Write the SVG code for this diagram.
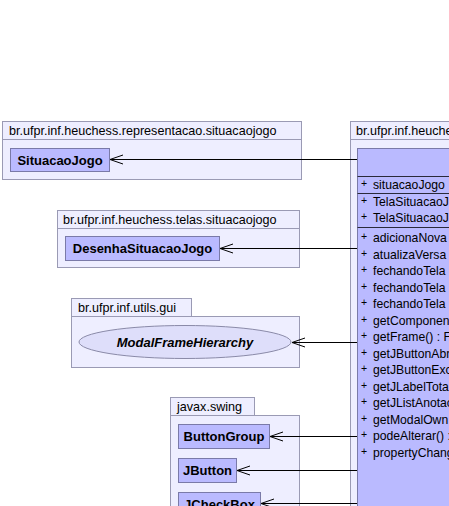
<svg xmlns="http://www.w3.org/2000/svg" width="449" height="506" viewBox="0 0 449 506">
<style>
.pkg{fill:#eeeeff;stroke:#9a9ab4;stroke-width:1}
.cls{fill:#babaff;stroke:#7a7aa8;stroke-width:1}
.iface{fill:#dedefa;stroke:#8a8aa8;stroke-width:1}
.sep{stroke:#2a2a3a;stroke-width:1}
.plabel{font-family:"Liberation Sans",Arial,sans-serif;font-size:12.6px;fill:#000}
.cname{font-family:"Liberation Sans",Arial,sans-serif;font-size:13px;font-weight:bold;fill:#000;text-anchor:middle}
.iname{font-family:"Liberation Sans",Arial,sans-serif;font-size:13px;font-weight:bold;font-style:italic;fill:#000;text-anchor:middle}
.mem{font-family:"Liberation Sans",Arial,sans-serif;font-size:12.2px;fill:#000}
.plus{font-size:10.5px}
.dep{stroke:#000;stroke-width:1;fill:none;marker-end:url(#open)}
</style>
<defs>
<marker id="open" markerUnits="userSpaceOnUse" viewBox="-15 -7 17 14" markerWidth="17" markerHeight="14" refX="0" refY="0" orient="auto" overflow="visible">
<path d="M-13,-4.5 L0,0 L-13,4.5" fill="none" stroke="#000" stroke-width="1"/>
</marker>
</defs>
<rect width="449" height="506" fill="#ffffff"/>

<g id="pkg-representacao">
<rect class="pkg" x="2.5" y="121.5" width="299" height="18"/>
<rect class="pkg" x="2.5" y="139.5" width="299" height="40"/>
<text class="plabel" x="9" y="135">br.ufpr.inf.heuchess.representacao.situacaojogo</text>
</g>
<g id="SituacaoJogo">
<rect class="cls" x="10.5" y="148.5" width="99" height="23"/>
<text class="cname" x="60" y="164.5">SituacaoJogo</text>
</g>

<g id="pkg-telas">
<rect class="pkg" x="57.5" y="210.5" width="242" height="18"/>
<rect class="pkg" x="57.5" y="228.5" width="242" height="39"/>
<text class="plabel" x="63" y="224">br.ufpr.inf.heuchess.telas.situacaojogo</text>
</g>
<g id="DesenhaSituacaoJogo">
<rect class="cls" x="65.5" y="236.5" width="154" height="24"/>
<text class="cname" x="142.5" y="253">DesenhaSituacaoJogo</text>
</g>

<g id="pkg-gui">
<rect class="pkg" x="71.5" y="298.5" width="120" height="18"/>
<rect class="pkg" x="71.5" y="316.5" width="228" height="51"/>
<text class="plabel" x="78" y="312">br.ufpr.inf.utils.gui</text>
</g>
<g id="ModalFrameHierarchy">
<ellipse class="iface" cx="185" cy="342" rx="106" ry="16.5"/>
<text class="iname" x="185" y="346.5">ModalFrameHierarchy</text>
</g>

<g id="pkg-swing">
<rect class="pkg" x="170.5" y="397.5" width="84" height="18"/>
<rect class="pkg" x="170.5" y="415.5" width="129" height="110"/>
<text class="plabel" x="177" y="411">javax.swing</text>
</g>
<g id="ButtonGroup">
<rect class="cls" x="178.5" y="424.5" width="91" height="24"/>
<text class="cname" x="224" y="441">ButtonGroup</text>
</g>
<g id="JButton">
<rect class="cls" x="178.5" y="458.5" width="58" height="24"/>
<text class="cname" x="207.5" y="475">JButton</text>
</g>
<g id="JCheckBox">
<rect class="cls" x="178.5" y="492.5" width="82" height="24"/>
<text class="cname" x="219.5" y="509">JCheckBox</text>
</g>

<g id="pkg-main">
<rect class="pkg" x="350.5" y="121.5" width="120" height="18"/>
<rect class="pkg" x="350.5" y="139.5" width="120" height="400"/>
<text class="plabel" x="356" y="135">br.ufpr.inf.heuche</text>
</g>
<g id="TelaSituacaoJogo">
<rect class="cls" x="357.5" y="148.5" width="110" height="400"/>
<line class="sep" x1="357.5" y1="176.5" x2="449" y2="176.5"/>
<line class="sep" x1="357.5" y1="193.5" x2="449" y2="193.5"/>
<line class="sep" x1="357.5" y1="227.5" x2="449" y2="227.5"/>
<g class="mem">
<text class="plus" x="361" y="187">+</text><text x="373" y="189">situacaoJogo</text>
<text class="plus" x="361" y="204">+</text><text x="373" y="206">TelaSituacaoJ</text>
<text class="plus" x="361" y="220">+</text><text x="373" y="222">TelaSituacaoJ</text>
<text class="plus" x="361" y="240">+</text><text x="373" y="242">adicionaNova</text>
<text class="plus" x="361" y="256.5">+</text><text x="373" y="258.5">atualizaVersa</text>
<text class="plus" x="361" y="273">+</text><text x="373" y="275">fechandoTela</text>
<text class="plus" x="361" y="289.5">+</text><text x="373" y="291.5">fechandoTela</text>
<text class="plus" x="361" y="306">+</text><text x="373" y="308">fechandoTela</text>
<text class="plus" x="361" y="322.5">+</text><text x="373" y="324.5">getComponen</text>
<text class="plus" x="361" y="339">+</text><text x="373" y="341">getFrame() : F</text>
<text class="plus" x="361" y="355.5">+</text><text x="373" y="357.5">getJButtonAbr</text>
<text class="plus" x="361" y="372">+</text><text x="373" y="374">getJButtonExc</text>
<text class="plus" x="361" y="388.5">+</text><text x="373" y="390.5">getJLabelTota</text>
<text class="plus" x="361" y="405">+</text><text x="373" y="407">getJListAnotac</text>
<text class="plus" x="361" y="421.5">+</text><text x="373" y="423.5">getModalOwn</text>
<text class="plus" x="361" y="438">+</text><text x="373" y="440">podeAlterar() :</text>
<text class="plus" x="361" y="454.5">+</text><text x="373" y="456.5">propertyChang</text>
</g>
</g>

<g id="connectors">
<line class="dep" x1="357" y1="159.5" x2="110" y2="159.5"/>
<line class="dep" x1="357" y1="248.5" x2="220" y2="248.5"/>
<line class="dep" x1="357" y1="342.5" x2="292" y2="342.5"/>
<line class="dep" x1="357" y1="436.5" x2="270" y2="436.5"/>
<line class="dep" x1="357" y1="470.5" x2="237" y2="470.5"/>
<line class="dep" x1="357" y1="503.5" x2="261" y2="503.5"/>
</g>
</svg>
